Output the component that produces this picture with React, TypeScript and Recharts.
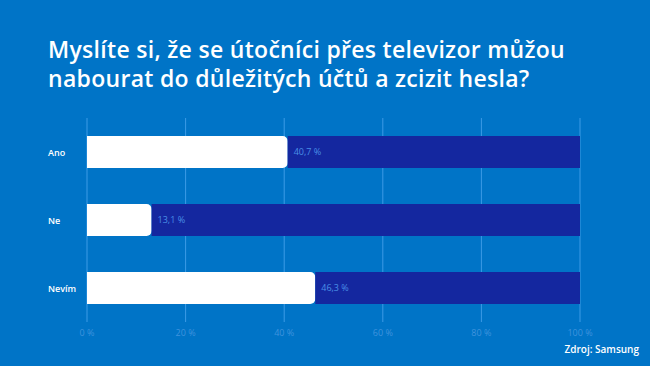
import { BarChart, Bar, XAxis, YAxis, CartesianGrid, LabelList } from "recharts";

const categories = ["Ano", "Ne", "Nevím"];
const shares = [40.7, 13.1, 46.3];
const xTicks = [0, 20, 40, 60, 80, 100];

const BG = "#0074C7";
const DARK = "#14279F";
const GRID = "#3C9BE6";

const data = categories.map((name, i) => ({
  name,
  value: shares[i],
  rest: 100 - shares[i],
}));

const fmtPct = (v: number) => `${v.toFixed(1).replace(".", ",")} %`;

function CategoryTick(props: any) {
  const { y, payload } = props;
  return (
    <text x={48} y={y} dy={4} textAnchor="start" fill="#fff" fontSize={9} fontWeight={600}>
      {payload.value}
    </text>
  );
}

export default function App() {
  return (
    <div
      style={{
        position: "fixed",
        top: 0,
        left: 0,
        width: 650,
        height: 366,
        background: BG,
        fontFamily: "'Open Sans', Lato, sans-serif",
        overflow: "hidden",
      }}
    >
      <div
        style={{
          position: "absolute",
          left: 48,
          top: 35,
          color: "#fff",
          fontSize: 23,
          fontWeight: 600,
          lineHeight: "29px",
          letterSpacing: 0.3,
          whiteSpace: "nowrap",
        }}
      >
        Myslíte si, že se útočníci přes televizor můžou
        <br />
        nabourat do důležitých účtů a zcizit hesla?
      </div>
      <BarChart
        width={650}
        height={366}
        data={data}
        layout="vertical"
        margin={{ top: 118, right: 70, bottom: 14, left: 0 }}
        barSize={32}
        style={{ position: "absolute", top: 0, left: 0 }}
      >
        <CartesianGrid horizontal={false} stroke={GRID} strokeWidth={1} />
        <XAxis
          type="number"
          domain={[0, 100]}
          ticks={xTicks}
          tickFormatter={(v) => `${v} %`}
          axisLine={false}
          tickLine={false}
          height={30}
          tick={{ fontSize: 9, fill: "#3F93DD" }}
        />
        <YAxis
          type="category"
          dataKey="name"
          width={87}
          axisLine={false}
          tickLine={false}
          tick={<CategoryTick />}
        />
        <Bar dataKey="value" stackId="a" fill="#fff" radius={[0, 5, 5, 0]} isAnimationActive={false}>
          <LabelList
            dataKey="value"
            position="right"
            offset={6}
            formatter={(v: any) => fmtPct(Number(v))}
            fill="#4A8FE6"
            fontSize={9}
          />
        </Bar>
        <Bar dataKey="rest" stackId="a" fill={DARK} isAnimationActive={false} />
      </BarChart>
      <div
        style={{
          position: "absolute",
          right: 11,
          top: 342,
          color: "#fff",
          fontSize: 10,
          fontWeight: 600,
        }}
      >
        Zdroj: Samsung
      </div>
    </div>
  );
}
